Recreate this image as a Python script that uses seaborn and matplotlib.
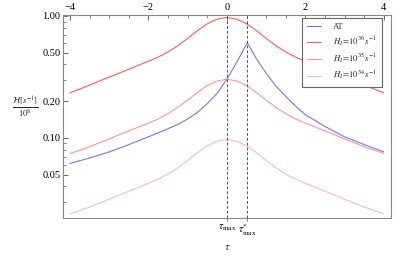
import numpy as np
import pandas as pd
import matplotlib
matplotlib.use("Agg")
import matplotlib.pyplot as plt
import matplotlib.ticker as mticker
import seaborn as sns

sns.set_theme(style="ticks")
plt.rcParams.update({
    "font.family": ["Liberation Serif", "DejaVu Serif"],
    "mathtext.fontset": "stix",
    "font.size": 7.5,
})

# Curves
tau_red = [-4, -3.5, -3, -2.5, -2, -1.75, -1.5, -1.25, -1, -0.75, -0.5, -0.25, 0,
           0.25, 0.5, 0.75, 1, 1.25, 1.5, 1.75, 2, 2.5, 3, 3.5, 4]
h_36 = [0.234, 0.271, 0.315, 0.366, 0.425, 0.460, 0.507, 0.570, 0.655, 0.759, 0.863, 0.942, 0.973,
        0.942, 0.863, 0.759, 0.655, 0.570, 0.507, 0.460, 0.425, 0.366, 0.315, 0.271, 0.234]
h_35 = [0.0745, 0.0845, 0.098, 0.114, 0.132, 0.143, 0.158, 0.178, 0.204, 0.236, 0.269, 0.293, 0.303,
        0.293, 0.269, 0.236, 0.204, 0.178, 0.158, 0.143, 0.132, 0.114, 0.098, 0.0845, 0.0745]
h_34 = [0.0238, 0.0271, 0.0314, 0.0365, 0.0424, 0.0459, 0.0505, 0.0568, 0.0653, 0.0757, 0.0860, 0.0939, 0.0970,
        0.0939, 0.0860, 0.0757, 0.0653, 0.0568, 0.0505, 0.0459, 0.0424, 0.0365, 0.0314, 0.0271, 0.0238]

tau_at = [-4, -3.5, -3, -2.5, -2, -1.5, -1.25, -1, -0.75, -0.5, -0.25, 0, 0.25, 0.52,
          0.75, 1, 1.25, 1.5, 1.75, 2, 2.5, 3, 3.5, 4]
h_at = [0.0617, 0.0684, 0.0767, 0.0881, 0.102, 0.119, 0.129, 0.143, 0.162, 0.191, 0.232, 0.303, 0.417, 0.604,
        0.447, 0.339, 0.266, 0.219, 0.182, 0.155, 0.124, 0.102, 0.0881, 0.0767]

tau_max = 0.0
tau_max_star = 0.52

top_ticks = [-4, -2, 0, 2, 4]
y_ticks = [0.05, 0.10, 0.20, 0.50, 1.00]
y_labels = ["0.05", "0.10", "0.20", "0.50", "1.00"]

labels = ["AT", r"$H_I\!=\!10^{36}\,s^{-1}$", r"$H_I\!=\!10^{35}\,s^{-1}$", r"$H_I\!=\!10^{34}\,s^{-1}$"]
colors = ["#7474ff", "#ff5a5a", "#ff9595", "#ffb8b8"]

fig = plt.figure(figsize=(4.15, 2.6), dpi=100)
ax = fig.add_axes([0.1525, 0.1605, 0.7895, 0.783])

series = [(tau_at, h_at), (tau_red, h_36), (tau_red, h_35), (tau_red, h_34)]
for (t, h), lab, c in zip(series, labels, colors):
    sns.lineplot(x=t, y=h, ax=ax, color=c, lw=0.8, label=lab)

for t in (tau_max, tau_max_star):
    ax.axvline(t, color="#555555", ls=(0, (3, 2)), lw=0.7)

ax.set_yscale("log")
ax.set_ylim(0.0219, 1.025)
ax.set_xlim(-4.17, 4.18)

ax.yaxis.set_major_locator(mticker.FixedLocator(y_ticks))
ax.yaxis.set_major_formatter(mticker.FixedFormatter(y_labels))
ax.yaxis.set_minor_locator(mticker.FixedLocator(
    [0.03, 0.04, 0.06, 0.07, 0.08, 0.09, 0.3, 0.4, 0.6, 0.7, 0.8, 0.9]))
ax.yaxis.set_minor_formatter(mticker.NullFormatter())

ax.xaxis.tick_top()
ax.xaxis.set_label_position("top")
ax.set_xticks(top_ticks)
ax.set_xticklabels(["\u22124", "\u22122", "0", "2", "4"])
ax.xaxis.set_minor_locator(mticker.MultipleLocator(0.5))

ax.tick_params(which="both", direction="in", colors="#555555", labelcolor="black",
               top=True, bottom=False, left=True, right=False, labelsize=7.5, pad=2)
ax.tick_params(which="major", length=3.5, width=0.6)
ax.tick_params(which="minor", length=2, width=0.5)
for s in ax.spines.values():
    s.set_color("#888888")
    s.set_linewidth(0.8)
ax.set_xlabel("")
ax.set_ylabel("")

sec = ax.secondary_xaxis("bottom")
sec.set_xticks([tau_max, tau_max_star])
sec.set_xticklabels([r"$\tau_{\rm max}$", r"$\tau^{*}_{\rm max}$"])
sec.tick_params(direction="out", length=2, width=0.5, colors="#555555", labelcolor="black",
                labelsize=7.5, pad=1)
sec.spines["bottom"].set_visible(False)
sec.set_xlabel(r"$\tau$", fontsize=8, labelpad=3)

fig.text(0.062, 0.585, r"$\frac{\mathcal{H}\left[s^{-1}\right]}{10^8}$", fontsize=9,
         ha="center", va="center")

leg = ax.legend(loc="upper left", bbox_to_anchor=(0.728, 0.985), fontsize=6.3,
                frameon=True, fancybox=False, edgecolor="#666666", framealpha=1,
                handlelength=1.6, handletextpad=1.4, labelspacing=0.45,
                borderpad=0.55, borderaxespad=0)
leg.get_frame().set_linewidth(0.8)

fig.savefig("out.png", dpi=100)
